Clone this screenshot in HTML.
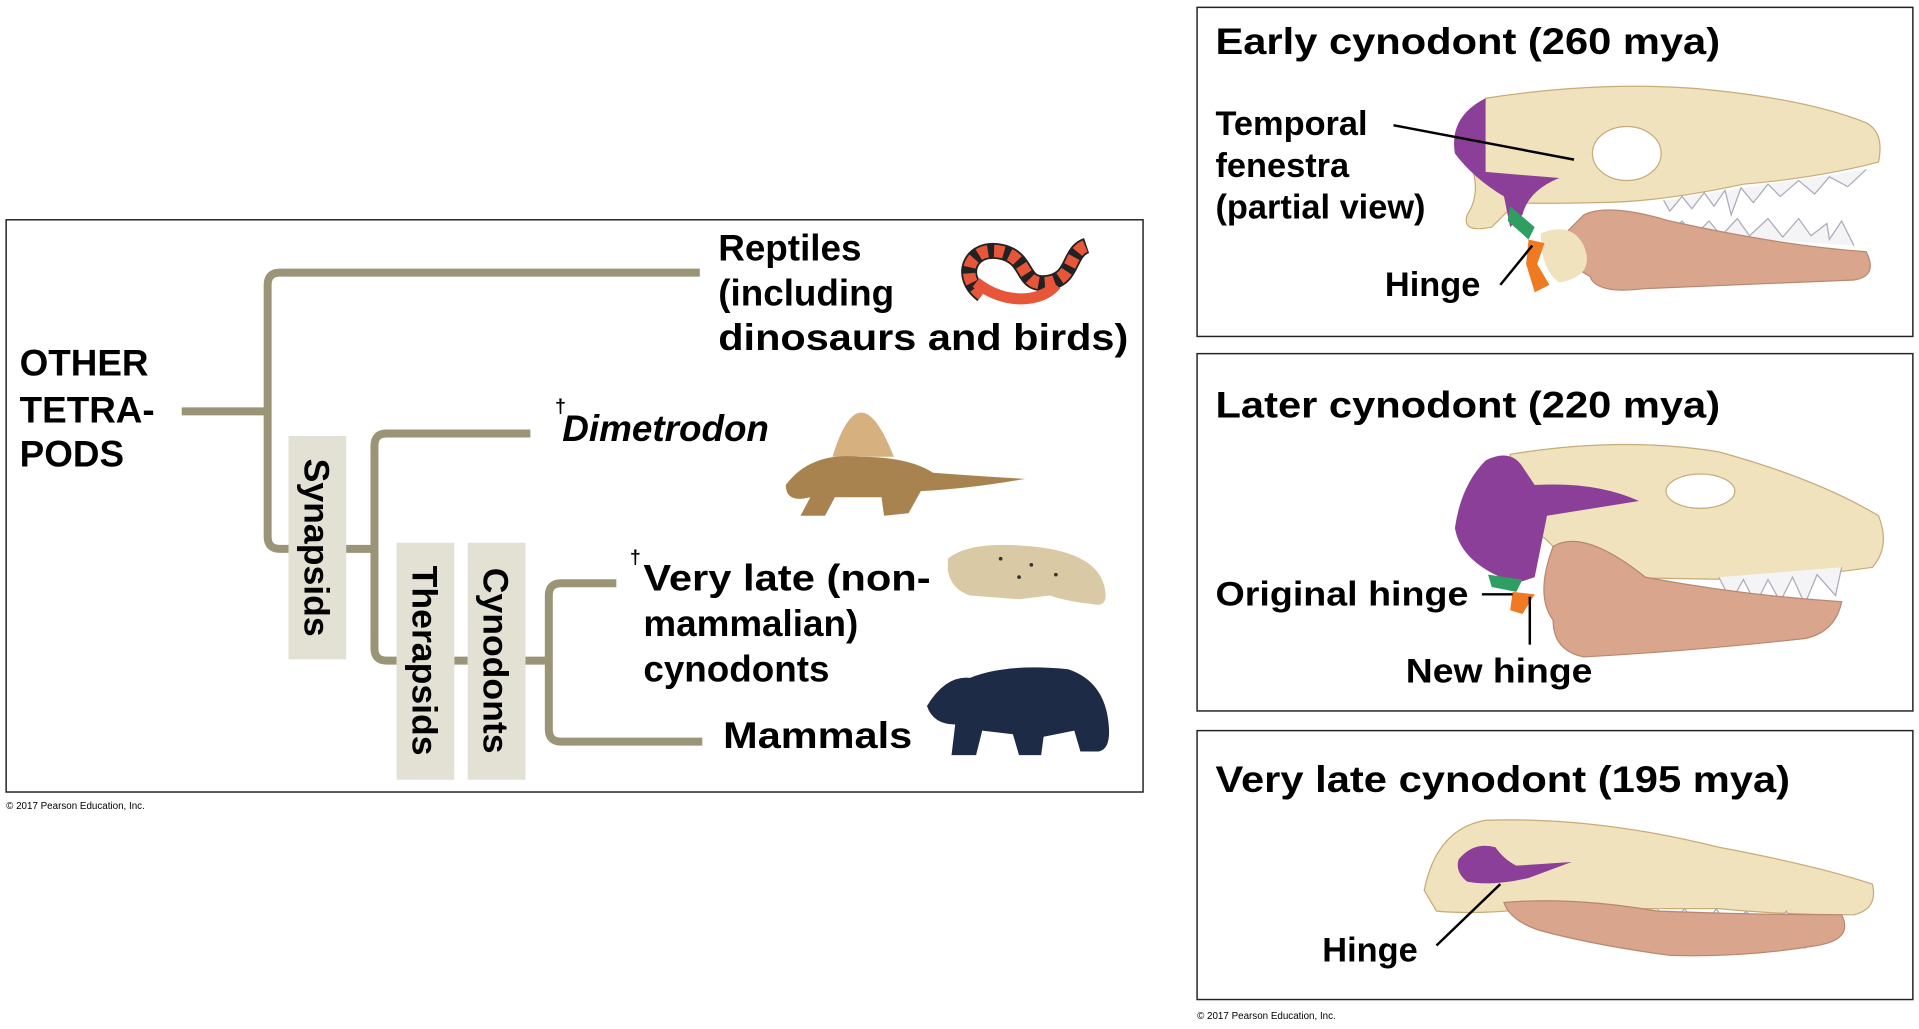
<!DOCTYPE html>
<html><head><meta charset="utf-8"><style>
html,body{margin:0;padding:0;background:#fff;}
svg{display:block;}
text{font-family:"Liberation Sans",Arial,sans-serif;font-weight:bold;fill:#000;}
</style></head><body>
<svg width="1919" height="1029" viewBox="0 0 1563 838" preserveAspectRatio="none">
<g>
<rect x="5" y="179" width="926" height="466" fill="#fff" stroke="#222" stroke-width="1.2"/>
<g fill="none" stroke="#9b9577" stroke-width="6.5">
<path d="M148 335 H218"/>
<path d="M570 222 H228 Q218 222 218 232 V437 Q218 447 228 447 H305"/>
<path d="M432 353 H315 Q305 353 305 363 V528 Q305 538 315 538 H323"/>
<path d="M370 538 H381"/>
<path d="M428 538 H447"/>
<path d="M502 475 H457 Q447 475 447 485 V594 Q447 604 457 604 H572"/>
</g>
<rect x="235" y="355" width="47" height="182" fill="#e3e1d4"/>
<rect x="323" y="442" width="47" height="193" fill="#e3e1d4"/>
<rect x="381" y="442" width="47" height="193" fill="#e3e1d4"/>
<text transform="translate(248,446) rotate(90)" font-size="29" text-anchor="middle">Synapsids</text>
<text transform="translate(336,538) rotate(90)" font-size="29" text-anchor="middle">Therapsids</text>
<text transform="translate(394,538) rotate(90)" font-size="29" text-anchor="middle">Cynodonts</text>
<g font-size="30">
<text x="16" y="306">OTHER</text>
<text x="16" y="344">TETRA-</text>
<text x="16" y="380">PODS</text>
<text x="585" y="212">Reptiles</text>
<text x="585" y="249">(including</text>
<text x="585" y="285" textLength="334" lengthAdjust="spacingAndGlyphs">dinosaurs and birds)</text>
<text x="458" y="359" font-style="italic">Dimetrodon</text>
<text x="452" y="336" font-size="16">†</text>
<text x="524" y="481" textLength="234" lengthAdjust="spacingAndGlyphs">Very late (non-</text>
<text x="513" y="459" font-size="16">†</text>
<text x="524" y="518">mammalian)</text>
<text x="524" y="555">cynodonts</text>
<text x="589" y="609" textLength="154" lengthAdjust="spacingAndGlyphs">Mammals</text>
</g>
<g>
<path d="M800 240 C780 225 790 200 815 205 C840 210 830 235 855 230 C875 226 870 205 885 200" fill="none" stroke="#222" stroke-width="13"/>
<path d="M800 240 C780 225 790 200 815 205 C840 210 830 235 855 230 C875 226 870 205 885 200" fill="none" stroke="#e8563a" stroke-width="10" stroke-dasharray="8 5"/>
<path d="M795 230 C820 250 850 245 860 232" fill="none" stroke="#e8563a" stroke-width="9"/>
</g>
<g>
<path d="M678 372 Q700 300 728 372 Z" fill="#d6b07e"/>
<path d="M640 395 Q660 368 700 372 Q740 372 760 385 Q800 388 835 390 Q790 398 750 400 L740 418 L720 420 L718 405 L680 405 L672 420 L652 420 L660 405 Q640 410 640 395Z" fill="#a8834f"/>
</g>
<g>
<path d="M772 455 Q790 440 840 445 Q895 450 900 480 Q903 495 890 492 Q870 490 855 485 L830 488 L790 485 Q775 480 772 465Z" fill="#d9c9a4"/>
<circle cx="815" cy="455" r="1.5" fill="#333"/><circle cx="840" cy="460" r="1.5" fill="#333"/><circle cx="860" cy="468" r="1.5" fill="#333"/><circle cx="830" cy="470" r="1.5" fill="#333"/>
</g>
<g>
<path d="M755 575 Q770 550 790 552 Q820 540 870 545 Q900 555 903 590 Q905 610 895 612 L880 612 L875 595 L850 600 L848 615 L830 615 L825 598 L800 595 L795 615 L775 615 L778 590 Q760 590 755 575Z" fill="#1e2b47"/>
</g>
<text x="5" y="659" font-size="8" style="font-weight:normal">© 2017 Pearson Education, Inc.</text>
</g>

<g>
<rect x="975" y="6" width="583" height="268" fill="#fff" stroke="#222" stroke-width="1.2"/>
<rect x="975" y="288" width="583" height="291" fill="#fff" stroke="#222" stroke-width="1.2"/>
<rect x="975" y="595" width="583" height="219" fill="#fff" stroke="#222" stroke-width="1.2"/>
<g font-size="30">
<text x="990" y="44" textLength="411" lengthAdjust="spacingAndGlyphs">Early cynodont (260 mya)</text>
<text x="990" y="340" textLength="411" lengthAdjust="spacingAndGlyphs">Later cynodont (220 mya)</text>
<text x="990" y="645" textLength="468" lengthAdjust="spacingAndGlyphs">Very late cynodont (195 mya)</text>
</g>
<g>
<path d="M1210 80 Q1300 66 1380 72 Q1470 80 1520 100 Q1535 108 1530 132 Q1480 145 1420 150 Q1350 165 1300 165 Q1250 166 1235 165 L1215 185 Q1190 190 1195 175 Q1205 160 1200 140Z" fill="#efe2bc" stroke="#c7ac78" stroke-width="1"/>
<ellipse cx="1325" cy="125" rx="28" ry="22" fill="#fff" stroke="#c7ac78"/>
<path d="M1355 163 L1360 172 L1370 160 L1378 170 L1388 157 L1396 168 L1405 155 L1410 175 L1418 153 L1428 165 L1440 150 L1450 160 L1465 147 L1478 158 L1490 144 L1505 152 L1520 138" fill="#f4f4f6" stroke="#aab" stroke-width="1"/>
<path d="M1360 190 L1370 180 L1380 192 L1392 180 L1402 192 L1415 178 L1425 192 L1440 178 L1452 193 L1465 178 L1475 192 L1488 182 L1490 195 L1500 180 L1510 200" fill="#f4f4f6" stroke="#aab" stroke-width="1"/>
<path d="M1290 175 Q1310 165 1360 180 Q1450 200 1520 205 Q1530 225 1510 228 Q1420 232 1340 235 Q1300 240 1295 225 Q1275 215 1270 195Z" fill="#d9a58c" stroke="#b98770"/>
<path d="M1255 190 Q1280 180 1290 200 Q1300 225 1270 230 Q1255 220 1255 190Z" fill="#efe2bc"/>
<path d="M1210 80 Q1180 95 1185 125 Q1200 145 1225 160 L1230 185 L1240 175 Q1245 155 1270 145 L1210 140 Z" fill="#8b3f98"/>
<path d="M1230 168 L1250 185 L1245 195 L1228 180Z" fill="#2e9e63"/>
<path d="M1245 195 L1258 198 L1252 215 L1262 232 L1250 238 L1243 215Z" fill="#f07a21"/>
<path d="M1135 102 L1282 130" stroke="#000" stroke-width="2"/>
<path d="M1222 232 L1248 200" stroke="#000" stroke-width="2"/>
</g>
<g font-size="28">
<text x="990" y="110">Temporal</text>
<text x="990" y="144">fenestra</text>
<text x="990" y="178">(partial view)</text>
<text x="1128" y="241">Hinge</text>
<text x="990" y="493" textLength="206" lengthAdjust="spacingAndGlyphs">Original hinge</text>
<text x="1145" y="556" textLength="152" lengthAdjust="spacingAndGlyphs">New hinge</text>
<text x="1077" y="783">Hinge</text>
</g>
<g>
<path d="M1230 370 Q1320 355 1400 368 Q1480 390 1530 420 Q1540 445 1525 462 Q1470 470 1420 472 L1290 470 L1260 440 L1235 420Z" fill="#efe2bc" stroke="#c7ac78"/>
<ellipse cx="1385" cy="400" rx="28" ry="14" fill="#fff" stroke="#c7ac78"/>
<path d="M1400 470 L1410 490 L1420 472 L1430 492 L1440 472 L1450 490 L1460 470 L1470 492 L1480 468 L1495 485 L1500 462" fill="#f4f4f6" stroke="#aab" stroke-width="1"/>
<path d="M1265 445 Q1290 430 1340 470 Q1420 485 1500 490 Q1495 515 1470 520 Q1380 530 1290 535 Q1265 530 1265 505 Q1250 485 1265 445Z" fill="#d9a58c" stroke="#b98770"/>
<path d="M1210 375 Q1230 365 1240 380 L1250 395 Q1300 392 1335 408 L1260 420 Q1255 445 1250 470 L1235 475 Q1190 460 1185 430 Q1190 395 1210 375Z" fill="#8b3f98"/>
<path d="M1212 468 L1240 472 L1235 482 L1215 478Z" fill="#2e9e63"/>
<path d="M1232 482 L1250 484 L1240 500 L1230 497Z" fill="#f07a21"/>
<path d="M1207 484 L1232 484 M1246 486 L1246 525" stroke="#000" stroke-width="2"/>
</g>
<g>
<path d="M1160 725 Q1170 675 1210 668 Q1300 665 1400 690 Q1480 705 1525 720 Q1530 740 1510 745 Q1450 745 1400 740 L1250 740 Q1200 745 1170 742Z" fill="#efe2bc" stroke="#c7ac78"/>
<path d="M1350 740 L1360 755 L1372 740 L1385 758 L1398 740 L1410 760 L1422 742 L1440 760 L1455 742 L1470 772 L1478 745 L1500 750" fill="#f4f4f6" stroke="#aab" stroke-width="1"/>
<path d="M1225 735 Q1280 730 1350 742 Q1430 745 1500 745 Q1510 765 1480 770 Q1420 780 1360 778 Q1300 770 1255 758 Q1230 750 1225 735Z" fill="#d9a58c" stroke="#b98770"/>
<path d="M1188 700 Q1200 685 1218 690 Q1225 700 1235 705 L1280 702 L1245 715 Q1215 722 1195 718 Q1185 710 1188 700Z" fill="#8b3f98"/>
<path d="M1170 770 L1222 720" stroke="#000" stroke-width="2"/>
</g>
<text x="975" y="830" font-size="8" style="font-weight:normal">© 2017 Pearson Education, Inc.</text>
</g>
</svg>
</body></html>
